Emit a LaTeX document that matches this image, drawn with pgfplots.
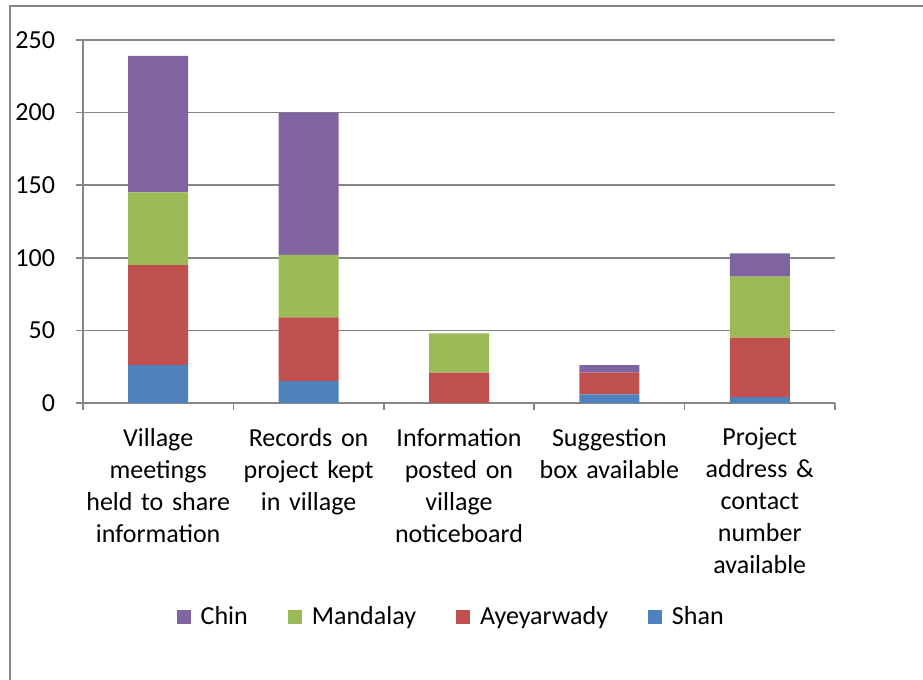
\documentclass[border=0pt]{standalone}
\usepackage{pgfplots}
\pgfplotsset{compat=1.18}
\usepackage{fontspec}
\setmainfont{Carlito}
\definecolor{shan}{HTML}{4F81BD}
\definecolor{ayey}{HTML}{C0504D}
\definecolor{mand}{HTML}{9BBB59}
\definecolor{chin}{HTML}{8064A2}
\definecolor{axgray}{HTML}{868686}

\begin{document}
\begin{tikzpicture}
\useasboundingbox (-41.5pt,-138.5pt) rectangle (420pt,201.5pt);
\draw[axgray,line width=1pt] (-36.5pt,-140pt) -- (-36.5pt,198.5pt) -- (422pt,198.5pt);
\begin{axis}[
  at={(0,0)},anchor=south west,scale only axis,
  width=376pt,height=181.5pt,
  ybar stacked,bar width=30pt,
  xmin=-0.5,xmax=4.5,ymin=0,ymax=250,
  axis x line*=bottom,axis y line*=left,
  axis line style={axgray,line width=0.75pt},
  ytick={0,50,...,250},
  ymajorgrids=true,grid style={axgray,line width=0.75pt},
  xtick={-0.5,0.5,1.5,2.5,3.5,4.5},xticklabels={},
  extra x ticks={0,1,2,3,4},
  extra x tick labels={{Village\\meetings\\held to share\\information},{Records on\\project kept\\in village},{Information\\posted on\\village\\noticeboard},{Suggestion\\box available},{Project\\address \&\\contact\\number\\available}},
  extra x tick style={major tick length=0pt,
    xticklabel style={font=\fontsize{13}{16}\selectfont,text width=76pt,align=center,yshift=-9pt}},
  tick align=outside,major tick length=3.5pt,
  tick style={axgray,line width=0.75pt},
  yticklabel style={font=\fontsize{13}{16}\selectfont,xshift=-7pt},
  /pgf/number format/assume math mode=true,
  every axis plot/.append style={draw=none},
  reverse legend,legend columns=-1,
  legend style={at={(axis description cs:0.491,-0.5895)},anchor=center,draw=none,
    font=\fontsize{13}{16}\selectfont,
    /tikz/every even column/.append style={column sep=18pt},
    /tikz/every odd column/.append style={column sep=3pt}},
  legend image code/.code={\fill[#1] (0pt,-3.6pt) rectangle (7pt,3.6pt);},
]
\addplot[fill=shan] coordinates {(0,26) (1,15) (2,0) (3,6) (4,4)};
\addplot[fill=ayey] coordinates {(0,69) (1,44) (2,21) (3,15) (4,41)};
\addplot[fill=mand] coordinates {(0,50) (1,43) (2,27) (3,0) (4,42)};
\addplot[fill=chin] coordinates {(0,94) (1,98) (2,0) (3,5) (4,16)};
\legend{Shan,Ayeyarwady,Mandalay,Chin}
\end{axis}
\end{tikzpicture}
\end{document}
